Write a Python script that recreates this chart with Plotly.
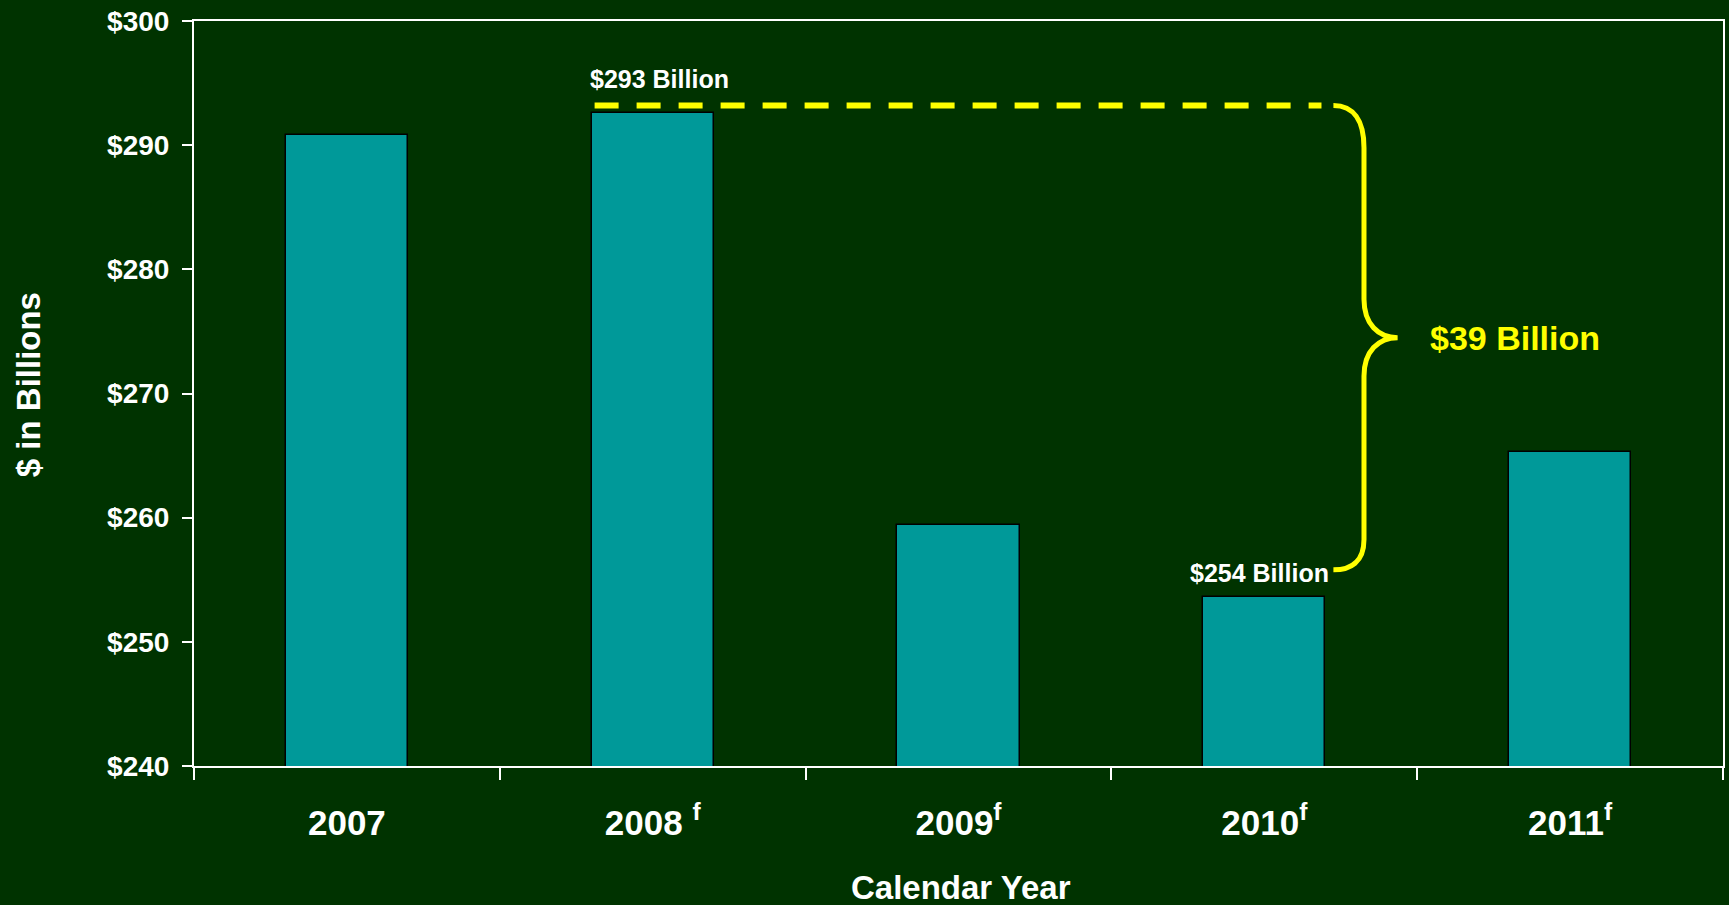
import plotly.graph_objects as go

# Annual spending, $ billions (f = forecast)
year_labels = ["2007", "2008 <sup>f</sup>", "2009<sup>f</sup>", "2010<sup>f</sup>", "2011<sup>f</sup>"]
spending = [290.8, 292.6, 259.45, 253.6, 265.3]
y_ticks = [240, 250, 260, 270, 280, 290, 300]

PEAK_IDX, TROUGH_IDX = 1, 3
peak = spending[PEAK_IDX]
trough = spending[TROUGH_IDX]
drop = round(peak) - round(trough)

BG = "#003300"
TEAL = "#009999"
YELLOW = "#FFFF00"
FONT = "Liberation Sans, Arial, sans-serif"
BAR_W = 0.4

W, H = 1729, 905
M = dict(l=194, r=4, t=21, b=139)

fig = go.Figure(
    go.Bar(
        x=year_labels,
        y=spending,
        width=BAR_W,
        marker=dict(color=TEAL, line=dict(color="#000000", width=1.5)),
        hoverinfo="x+y",
    )
)

# dashed reference line at the peak and a curly brace down to the trough
line_y = peak + 0.6
brace_bot = trough + 2.2
brace_mid = (line_y + brace_bot) / 2
x_start = TROUGH_IDX + BAR_W / 2 + 0.026
x_vert = x_start + 0.10
x_tip = x_start + 0.21
r_end = 3.4     # rounding at the brace ends (data units)
r_mid = 3.1     # rounding at the brace tip

brace_path = (
    f"M {x_start},{line_y} "
    f"C {x_start + 0.065},{line_y} {x_vert},{line_y - 1.2} {x_vert},{line_y - r_end} "
    f"L {x_vert},{brace_mid + r_mid} "
    f"C {x_vert},{brace_mid + 1.1} {x_vert + 0.047},{brace_mid} {x_tip},{brace_mid} "
    f"C {x_vert + 0.047},{brace_mid} {x_vert},{brace_mid - 1.1} {x_vert},{brace_mid - r_mid} "
    f"L {x_vert},{brace_bot + r_end * 0.72} "
    f"C {x_vert},{brace_bot + 0.6} {x_start + 0.055},{brace_bot} {x_start},{brace_bot}"
)

fig.add_shape(
    type="line",
    xref="x", yref="y",
    x0=PEAK_IDX - BAR_W / 2 + 0.01, x1=TROUGH_IDX + BAR_W / 2 - 0.013,
    y0=line_y, y1=line_y,
    line=dict(color=YELLOW, width=6, dash="24px,18px"),
)
fig.add_shape(
    type="path", xref="x", yref="y",
    path=brace_path,
    line=dict(color=YELLOW, width=5),
)

label_font = dict(family=FONT, size=25, color="white", weight="bold")
fig.add_annotation(
    x=PEAK_IDX - BAR_W / 2 - 0.01, y=line_y + 2.1, xref="x", yref="y",
    text=f"${round(peak)} Billion", showarrow=False,
    xanchor="left", yanchor="middle", font=label_font,
)
fig.add_annotation(
    x=TROUGH_IDX + BAR_W / 2 + 0.018, y=trough + 1.95, xref="x", yref="y",
    text=f"${round(trough)} Billion", showarrow=False,
    xanchor="right", yanchor="middle", font=label_font,
)
fig.add_annotation(
    x=x_tip + 0.1, y=brace_mid, xref="x", yref="y",
    text=f"${drop} Billion", showarrow=False,
    xanchor="left", yanchor="middle",
    font=dict(family=FONT, size=34, color=YELLOW, weight="bold"),
)

# axis titles
plot_w = W - M["l"] - M["r"]
plot_h = H - M["t"] - M["b"]
fig.add_annotation(
    x=(28 - M["l"]) / plot_w, y=(H - M["b"] - 385) / plot_h,
    xref="paper", yref="paper", text="$ in Billions", textangle=-90,
    showarrow=False, xanchor="center", yanchor="middle",
    font=dict(family=FONT, size=33, color="white", weight="bold"),
)
fig.add_annotation(
    x=(962 - M["l"]) / plot_w, y=-(887 - (H - M["b"])) / plot_h,
    xref="paper", yref="paper", text="Calendar Year",
    showarrow=False, xanchor="center", yanchor="middle",
    font=dict(family=FONT, size=33, color="white", weight="bold"),
)

fig.update_layout(
    width=W, height=H, autosize=False,
    margin=M,
    paper_bgcolor=BG, plot_bgcolor=BG,
    showlegend=False,
    bargap=0,
    font=dict(family=FONT, color="white"),
)
fig.update_xaxes(
    type="category",
    range=[-0.5, len(year_labels) - 0.5],
    tickson="boundaries",
    ticks="outside", ticklen=12, tickwidth=2, tickcolor="white",
    showline=True, linecolor="white", linewidth=2, mirror=True,
    showgrid=False, zeroline=False,
    tickfont=dict(family=FONT, size=35, color="white", weight="bold"),
    ticklabelstandoff=25,
)
fig.update_yaxes(
    range=[y_ticks[0], y_ticks[-1]],
    tickvals=y_ticks,
    ticktext=[f"${v}" for v in y_ticks],
    ticks="outside", ticklen=10, tickwidth=2, tickcolor="white",
    showline=True, linecolor="white", linewidth=2, mirror=True,
    showgrid=False, zeroline=False,
    tickfont=dict(family=FONT, size=28, color="white", weight="bold"),
    ticklabelstandoff=7,
)

fig.write_html("out.html")
